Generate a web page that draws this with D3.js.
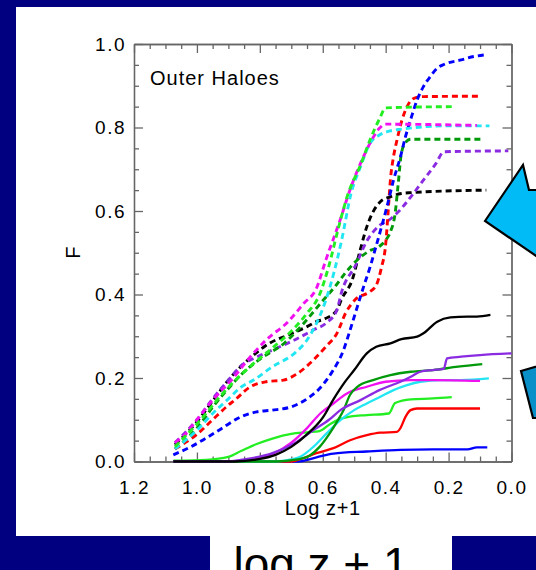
<!DOCTYPE html>
<html><head><meta charset="utf-8">
<script src="https://cdn.jsdelivr.net/npm/d3@7"></script>
<style>html,body{margin:0;padding:0;background:#000080;overflow:hidden}</style>
</head><body>
<svg id="c" width="536" height="570"></svg>
<script>
// ---- data ----
const xMajorTicks = [1.2, 1.0, 0.8, 0.6, 0.4, 0.2, 0.0];
const yMajorTicks = [0.0, 0.2, 0.4, 0.6, 0.8, 1.0];
const panelLabel = "Outer Haloes";
const xTitle = "Log z+1";
const yTitle = "F";
const slideCaption = "log z + 1";

// dashed curves [log(z+1), F]
const dashedMagenta = [[1.07,0.045],[1.04,0.063],[1.0,0.10],[0.95,0.147],[0.89,0.195],[0.83,0.251],[0.78,0.291],[0.71,0.335],[0.66,0.379],[0.62,0.415],[0.59,0.483],[0.545,0.578],[0.51,0.658],[0.48,0.714],[0.45,0.762],[0.42,0.798],[0.40,0.808],[0.11,0.805]];
const dashedLime = [[1.07,0.035],[1.0,0.09],[0.9,0.178],[0.83,0.228],[0.76,0.272],[0.70,0.312],[0.65,0.355],[0.61,0.40],[0.58,0.47],[0.55,0.56],[0.52,0.64],[0.48,0.71],[0.45,0.77],[0.42,0.82],[0.40,0.847],[0.19,0.85]];
const dashedDarkGreen = [[1.07,0.03],[1.0,0.08],[0.95,0.13],[0.9,0.175],[0.85,0.215],[0.8,0.245],[0.72,0.285],[0.67,0.323],[0.6,0.385],[0.56,0.42],[0.53,0.45],[0.49,0.483],[0.45,0.505],[0.42,0.515],[0.40,0.53],[0.385,0.55],[0.37,0.594],[0.36,0.666],[0.35,0.738],[0.335,0.766],[0.32,0.772],[0.093,0.772]];
const dashedCyan = [[1.07,0.03],[1.0,0.075],[0.95,0.115],[0.9,0.15],[0.86,0.178],[0.82,0.195],[0.76,0.227],[0.69,0.259],[0.65,0.291],[0.62,0.331],[0.59,0.387],[0.565,0.451],[0.54,0.53],[0.51,0.642],[0.48,0.706],[0.45,0.762],[0.42,0.782],[0.385,0.792],[0.35,0.796],[0.2,0.804],[0.07,0.804]];
const dashedBlack = [[1.07,0.04],[1.0,0.095],[0.95,0.145],[0.9,0.195],[0.85,0.235],[0.82,0.255],[0.77,0.283],[0.71,0.303],[0.65,0.323],[0.62,0.335],[0.59,0.343],[0.555,0.363],[0.54,0.389],[0.505,0.438],[0.485,0.495],[0.46,0.562],[0.44,0.598],[0.417,0.622],[0.385,0.634],[0.35,0.642],[0.32,0.644],[0.08,0.65]];
const dashedPurple = [[1.07,0.045],[1.0,0.10],[0.95,0.15],[0.9,0.195],[0.85,0.235],[0.83,0.243],[0.76,0.267],[0.69,0.291],[0.63,0.315],[0.59,0.331],[0.555,0.363],[0.54,0.406],[0.495,0.471],[0.46,0.528],[0.42,0.565],[0.39,0.578],[0.36,0.598],[0.32,0.634],[0.28,0.674],[0.24,0.714],[0.215,0.742],[0.01,0.744]];
const dashedRed = [[1.07,0.03],[1.0,0.065],[0.95,0.10],[0.9,0.135],[0.88,0.147],[0.83,0.179],[0.78,0.191],[0.725,0.195],[0.68,0.211],[0.63,0.243],[0.59,0.275],[0.555,0.307],[0.527,0.356],[0.495,0.389],[0.452,0.406],[0.43,0.422],[0.414,0.463],[0.40,0.52],[0.392,0.60],[0.385,0.674],[0.375,0.73],[0.364,0.77],[0.348,0.818],[0.332,0.85],[0.31,0.87],[0.28,0.874],[0.10,0.875]];
const dashedBlue = [[1.075,0.016],[1.02,0.035],[0.93,0.075],[0.86,0.107],[0.81,0.119],[0.76,0.123],[0.70,0.131],[0.65,0.15],[0.61,0.175],[0.57,0.215],[0.534,0.267],[0.513,0.315],[0.49,0.371],[0.47,0.419],[0.449,0.467],[0.427,0.525],[0.396,0.61],[0.375,0.674],[0.353,0.73],[0.337,0.778],[0.321,0.818],[0.30,0.866],[0.28,0.898],[0.258,0.922],[0.236,0.942],[0.215,0.951],[0.16,0.962],[0.12,0.97],[0.083,0.974]];

// solid curves
const solidBlack = [[1.075,0.0],[0.88,0.0],[0.8,0.006],[0.75,0.016],[0.70,0.035],[0.65,0.065],[0.6,0.105],[0.565,0.15],[0.53,0.19],[0.50,0.219],[0.46,0.259],[0.43,0.275],[0.385,0.283],[0.35,0.293],[0.30,0.299],[0.28,0.307],[0.236,0.335],[0.194,0.345],[0.14,0.347],[0.11,0.347],[0.067,0.351]];
const solidPurple = [[1.075,0.0],[0.9,0.0],[0.86,0.004],[0.76,0.02],[0.69,0.044],[0.63,0.075],[0.58,0.10],[0.544,0.123],[0.48,0.147],[0.42,0.171],[0.353,0.191],[0.32,0.203],[0.29,0.215],[0.25,0.219],[0.215,0.222],[0.205,0.247],[0.16,0.251],[0.10,0.255],[0.0,0.259]];
const solidDarkGreen = [[1.075,0.0],[0.75,0.0],[0.68,0.005],[0.64,0.015],[0.61,0.035],[0.58,0.065],[0.555,0.095],[0.534,0.123],[0.513,0.16],[0.49,0.179],[0.44,0.195],[0.385,0.207],[0.32,0.215],[0.25,0.219],[0.17,0.227],[0.093,0.233]];
const solidMagenta = [[1.075,0.0],[0.9,0.0],[0.82,0.005],[0.76,0.018],[0.70,0.045],[0.65,0.08],[0.608,0.115],[0.566,0.139],[0.523,0.163],[0.46,0.179],[0.40,0.191],[0.32,0.195],[0.25,0.195],[0.10,0.193]];
const solidCyan = [[1.075,0.0],[0.75,0.0],[0.70,0.005],[0.67,0.012],[0.63,0.035],[0.587,0.068],[0.544,0.099],[0.50,0.123],[0.46,0.139],[0.417,0.155],[0.375,0.171],[0.332,0.183],[0.29,0.191],[0.226,0.195],[0.16,0.195],[0.072,0.199]];
const solidLime = [[1.075,0.002],[0.97,0.004],[0.90,0.011],[0.86,0.025],[0.81,0.042],[0.76,0.055],[0.70,0.066],[0.65,0.07],[0.61,0.073],[0.576,0.09],[0.544,0.102],[0.51,0.108],[0.46,0.111],[0.39,0.115],[0.37,0.14],[0.32,0.149],[0.25,0.151],[0.19,0.154]];
const solidRed = [[1.075,0.0],[0.70,0.0],[0.67,0.006],[0.62,0.02],[0.566,0.032],[0.513,0.051],[0.46,0.063],[0.417,0.069],[0.364,0.071],[0.353,0.08],[0.337,0.107],[0.321,0.123],[0.30,0.127],[0.10,0.127]];
const solidBlue = [[1.075,0.0],[0.68,0.0],[0.62,0.01],[0.566,0.019],[0.46,0.024],[0.353,0.028],[0.25,0.029],[0.14,0.029],[0.11,0.034],[0.077,0.034]];

const dashedSeries = [
  {name:"black", data:dashedBlack},{name:"purple", data:dashedPurple},{name:"darkgreen", data:dashedDarkGreen},
  {name:"red", data:dashedRed},{name:"blue", data:dashedBlue},{name:"cyan", data:dashedCyan},
  {name:"magenta", data:dashedMagenta},{name:"lime", data:dashedLime}
];
const solidSeries = [
  {name:"blue", data:solidBlue},{name:"red", data:solidRed},{name:"lime", data:solidLime},
  {name:"cyan", data:solidCyan},{name:"magenta", data:solidMagenta},{name:"darkgreen", data:solidDarkGreen},
  {name:"purple", data:solidPurple},{name:"black", data:solidBlack}
];
const colorOf = {black:"#000000", red:"#ff0000", blue:"#0000ff", darkgreen:"#00990a", lime:"#22ee22", cyan:"#22e6f2", magenta:"#f010f0", purple:"#8a2be2"};

// ---- drawing ----
const svg = d3.select("#c");
const FONT = "'Liberation Sans', Arial, Helvetica, sans-serif";

svg.append("rect").attr("x",0).attr("y",0).attr("width",536).attr("height",570).attr("fill","#000080");
svg.append("rect").attr("x",16).attr("y",7).attr("width",530).attr("height",529).attr("fill","#ffffff");
svg.append("rect").attr("x",210).attr("y",536).attr("width",242).attr("height",40).attr("fill","#ffffff");

const L = 134, R = 511.5, T = 44, B = 461.5;
const x = d3.scaleLinear().domain([1.2, 0.0]).range([L, R]);
const y = d3.scaleLinear().domain([0.0, 1.0]).range([B, T]);

const minorX = d3.range(0, 25).map(i => +(i*0.05).toFixed(2)).filter(v => !xMajorTicks.some(m => Math.abs(m-v) < 1e-6));
const minorY = d3.range(0, 21).map(i => +(i*0.05).toFixed(2)).filter(v => !yMajorTicks.some(m => Math.abs(m-v) < 1e-6));

const axisColor = "#666";
function styleAxis(g){
  g.selectAll(".domain").attr("stroke", axisColor).attr("stroke-width",1.3);
  g.selectAll(".tick line").attr("stroke", axisColor).attr("stroke-width",1.3);
  g.selectAll(".tick text").attr("fill","#000").style("font-family",FONT).style("font-size","19px").style("letter-spacing","1.5px");
}
// bottom
const gb = svg.append("g").attr("transform",`translate(0,${B})`)
  .call(d3.axisBottom(x).tickValues(xMajorTicks).tickSizeInner(-9).tickSizeOuter(0).tickPadding(19).tickFormat(d3.format(".1f")));
styleAxis(gb);
const gbm = svg.append("g").attr("transform",`translate(0,${B})`)
  .call(d3.axisBottom(x).tickValues(minorX).tickSizeInner(-5).tickSizeOuter(0).tickFormat(""));
styleAxis(gbm);
// top
const gt = svg.append("g").attr("transform",`translate(0,${T})`)
  .call(d3.axisTop(x).tickValues(xMajorTicks).tickSizeInner(-9).tickSizeOuter(0).tickFormat(""));
styleAxis(gt);
const gtm = svg.append("g").attr("transform",`translate(0,${T})`)
  .call(d3.axisTop(x).tickValues(minorX).tickSizeInner(-5).tickSizeOuter(0).tickFormat(""));
styleAxis(gtm);
// left
const gl = svg.append("g").attr("transform",`translate(${L},0)`)
  .call(d3.axisLeft(y).tickValues(yMajorTicks).tickSizeInner(-9).tickSizeOuter(0).tickPadding(8).tickFormat(d3.format(".1f")));
styleAxis(gl);
const glm = svg.append("g").attr("transform",`translate(${L},0)`)
  .call(d3.axisLeft(y).tickValues(minorY).tickSizeInner(-5).tickSizeOuter(0).tickFormat(""));
styleAxis(glm);
// right
const gr = svg.append("g").attr("transform",`translate(${R},0)`)
  .call(d3.axisRight(y).tickValues(yMajorTicks).tickSizeInner(-9).tickSizeOuter(0).tickFormat(""));
styleAxis(gr);
const grm = svg.append("g").attr("transform",`translate(${R},0)`)
  .call(d3.axisRight(y).tickValues(minorY).tickSizeInner(-5).tickSizeOuter(0).tickFormat(""));
styleAxis(grm);

// lines
const line = d3.line().x(d => x(d[0])).y(d => y(d[1])).curve(d3.curveMonotoneX);
const gLines = svg.append("g");
gLines.selectAll("path.dashed").data(dashedSeries).join("path")
  .attr("class","dashed").attr("d", d => line(d.data))
  .attr("fill","none").attr("stroke", d => colorOf[d.name]).attr("stroke-width",2.9)
  .attr("stroke-dasharray","6,4");
gLines.selectAll("path.solid").data(solidSeries).join("path")
  .attr("class","solid").attr("d", d => line(d.data))
  .attr("fill","none").attr("stroke", d => colorOf[d.name]).attr("stroke-width",2.3)
  .attr("stroke-linejoin","round");

// texts
svg.append("text").attr("x",150).attr("y",85).text(panelLabel)
  .style("font-family",FONT).style("font-size","20px").style("letter-spacing","1px").attr("fill","#000");
svg.append("text").attr("x",(L+R)/2).attr("y",515).attr("text-anchor","middle").text(xTitle)
  .style("font-family",FONT).style("font-size","20px").style("letter-spacing","0.6px").attr("fill","#000");
svg.append("text").attr("transform",`translate(80,${(T+B)/2}) rotate(-90)`).attr("text-anchor","middle").text(yTitle)
  .style("font-family",FONT).style("font-size","20px").attr("fill","#000");
svg.append("text").attr("x",321).attr("y",580).attr("text-anchor","middle").text(slideCaption)
  .style("font-family",FONT).style("font-size","46px").attr("fill","#000");

// slide arrows
svg.append("path").attr("d","M485,221 L523,165 L529,190 L570,190 L570,279 Z")
  .attr("fill","#00bbf5").attr("stroke","#000").attr("stroke-width",2.2).attr("stroke-linejoin","miter");
svg.append("path").attr("d","M521,371 L545,364 L545,418 L533,418 Z")
  .attr("fill","#0a90c8").attr("stroke","#000").attr("stroke-width",2.2);
</script>
</body></html>
